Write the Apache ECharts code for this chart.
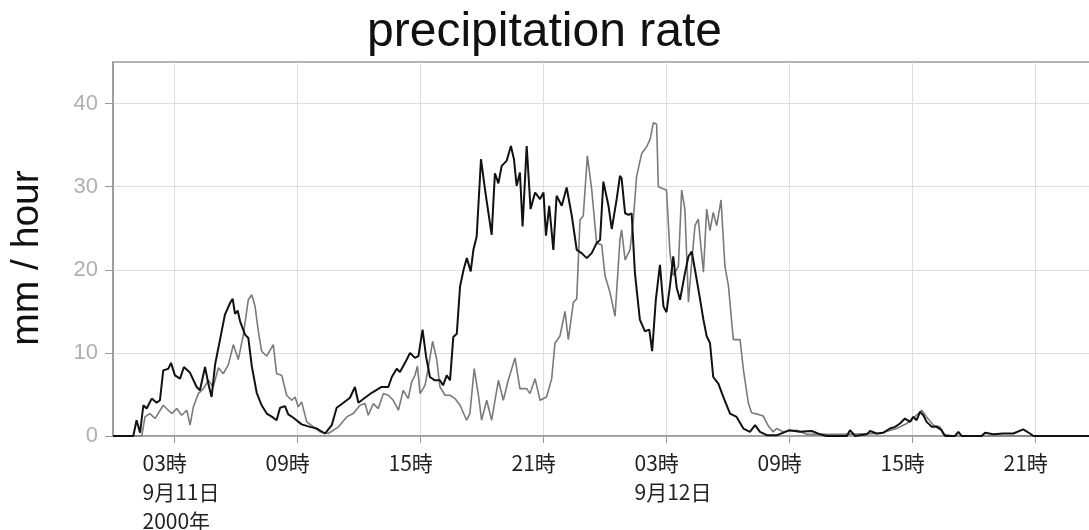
<!DOCTYPE html>
<html>
<head>
<meta charset="utf-8">
<title>precipitation rate</title>
<script src="https://cdn.jsdelivr.net/npm/echarts@6/dist/echarts.min.js"></script>
<style>
  html, body { margin: 0; padding: 0; background: #fff; }
  #chart { width: 1089px; height: 530px; }
</style>
</head>
<body>
<div id="chart"></div>
<script>
// hours since 2000-09-11 00:00
const tickHours = [3, 9, 15, 21, 27, 33, 39, 45];
const tickLabels = ['03時\n9月11日\n2000年', '09時', '15時', '21時', '03時\n9月12日', '09時', '15時', '21時'];
const rateTicks = [0, 10, 20, 30, 40];

const blackHours = [0, 0.99, 1.15, 1.32, 1.48, 1.64, 1.89, 2.13, 2.29, 2.45, 2.7, 2.83, 3.02, 3.27, 3.46, 3.76,
  4.08, 4.24, 4.49, 4.65, 4.81, 4.98, 5.22, 5.46, 5.71, 5.84, 5.95, 6.08, 6.2, 6.44, 6.6, 6.77, 7.01, 7.25,
  7.5, 7.82, 7.98, 8.15, 8.39, 8.55, 8.8, 9.2, 9.61, 9.94, 10.34, 10.67, 10.91, 11.24, 11.56, 11.8, 11.97,
  12.29, 12.62, 13.1, 13.43, 13.6, 13.84, 14.0, 14.33, 14.49, 14.73, 14.9, 15.1, 15.27, 15.46, 15.7, 15.95,
  16.1, 16.28, 16.44, 16.6, 16.77, 16.93, 17.1, 17.26, 17.45, 17.58, 17.74, 17.95, 18.15, 18.47, 18.63, 18.8,
  18.96, 19.2, 19.41, 19.56, 19.69, 19.85, 19.98, 20.18, 20.37, 20.59, 20.83, 21.0, 21.12, 21.28, 21.48,
  21.64, 21.89, 22.13, 22.38, 22.62, 22.86, 23.11, 23.35, 23.59, 23.76, 23.92, 24.17, 24.33, 24.57, 24.73,
  24.81, 24.98, 25.15, 25.3, 25.46, 25.7, 25.95, 26.16, 26.3, 26.48, 26.68, 26.85, 27.0, 27.17, 27.33, 27.5,
  27.66, 27.9, 28.07, 28.23, 28.39, 28.64, 28.8, 28.96, 29.12, 29.28, 29.53, 29.77, 30.1, 30.42, 30.75,
  31.07, 31.32, 31.56, 31.89, 32.4, 33.0, 33.5, 34.08, 34.5, 34.8, 35.8, 35.95, 36.2, 36.77, 36.93, 37.25,
  37.58, 37.9, 38.15, 38.39, 38.63, 38.88, 39.04, 39.2, 39.37, 39.53, 39.69, 39.94, 40.18, 40.42, 40.59,
  41.07, 41.24, 41.4, 42.37, 42.54, 42.94, 43.43, 43.92, 44.4, 44.73, 44.9, 48];
const blackRates = [0, 0, 1.9, 0.4, 3.7, 3.3, 4.5, 4.0, 4.3, 7.9, 8.1, 8.8, 7.3, 6.9, 8.3, 7.6,
  5.9, 5.5, 8.3, 6.3, 4.7, 8.6, 11.6, 14.6, 16.0, 16.5, 14.7, 15.1, 13.8, 12.2, 11.8, 8.4, 5.2, 3.7,
  2.7, 2.2, 1.9, 3.4, 3.6, 2.6, 2.2, 1.4, 1.1, 0.9, 0.3, 1.3, 3.4, 4.0, 4.6, 5.9, 4.0,
  4.6, 5.2, 5.9, 5.9, 7.1, 8.1, 7.7, 9.2, 10.0, 9.4, 9.6, 12.8, 9.6, 7.1, 6.7, 6.7,
  6.1, 7.3, 6.7, 11.9, 12.3, 18.0, 20.0, 21.4, 19.8, 22.4, 24.0, 33.3, 29.6, 24.2, 31.6, 30.4,
  32.5, 33.1, 34.9, 33.3, 30.1, 31.7, 25.2, 34.9, 27.3, 29.3, 28.5, 29.3, 24.1, 27.7, 22.4,
  28.9, 27.7, 29.9, 26.5, 22.4, 22.0, 21.4, 22.0, 23.2, 23.6, 30.6, 27.7, 24.9, 28.5, 31.3,
  31.0, 26.8, 26.6, 26.8, 19.6, 14.0, 12.6, 12.8, 10.2, 16.4, 20.6, 15.6, 14.9, 18.1, 21.6, 17.8,
  16.4, 19.6, 21.6, 22.2, 20.0, 16.4, 14.0, 12.0, 11.2, 7.1, 6.3, 4.7, 2.7, 2.3, 0.9,
  0.5, 1.3, 0.5, 0.1, 0.1, 0.7, 0.5, 0.6, 0.2, 0, 0, 0.7, 0, 0.2, 0.6, 0.3,
  0.4, 0.9, 1.1, 1.5, 2.1, 1.7, 2.3, 1.9, 2.9, 2.5, 1.7, 1.1, 1.1, 0.7, 0,
  0, 0.5, 0, 0, 0.4, 0.2, 0.3, 0.3, 0.8, 0.3, 0, 0];

const grayHours = [0, 1.4, 1.56, 1.8, 2.05, 2.45, 2.7, 2.86, 3.11, 3.35, 3.6, 3.76, 3.92, 4.16, 4.41, 4.65,
  4.89, 5.14, 5.38, 5.63, 5.87, 6.11, 6.36, 6.6, 6.77, 6.93, 7.09, 7.25, 7.5, 7.82, 7.98, 8.23, 8.47, 8.72,
  8.88, 9.04, 9.2, 9.45, 10.1, 10.5, 11.0, 11.4, 11.72, 12.05, 12.3, 12.45, 12.7, 12.94, 13.19, 13.43, 13.67,
  13.92, 14.16, 14.4, 14.57, 14.73, 14.85, 14.98, 15.22, 15.38, 15.59, 15.79, 15.95, 16.2, 16.44, 16.68,
  16.93, 17.25, 17.41, 17.62, 17.85, 17.98, 18.23, 18.47, 18.8, 19.04, 19.28, 19.61, 19.85, 20.18, 20.34,
  20.59, 20.83, 21.15, 21.4, 21.56, 21.8, 22.05, 22.21, 22.46, 22.62, 22.78, 22.94, 23.14, 23.35, 23.59,
  23.84, 24.0, 24.24, 24.49, 24.73, 24.81, 24.98, 25.22, 25.38, 25.54, 25.79, 26.03, 26.2, 26.36, 26.52,
  26.6, 26.77, 27.0, 27.17, 27.33, 27.58, 27.74, 27.9, 28.07, 28.23, 28.39, 28.55, 28.8, 28.96, 29.12,
  29.28, 29.45, 29.66, 29.85, 30.02, 30.26, 30.59, 30.75, 30.99, 31.15, 31.48, 31.72, 31.97, 32.2, 32.37,
  32.7, 33.35, 33.84, 35.46, 37.4, 38.23, 38.72, 39.2, 39.45, 39.69, 40.02, 40.34, 40.5, 41, 48];
const grayRates = [0, 0, 2.3, 2.7, 2.1, 3.7, 3.1, 2.7, 3.3, 2.5, 3.1, 1.3, 3.5, 5.1, 5.7, 6.7,
  5.9, 8.2, 7.5, 8.6, 11.0, 9.2, 12.2, 16.4, 17.0, 15.6, 12.6, 10.2, 9.6, 11.0, 7.5, 7.3, 4.9, 4.3,
  4.7, 3.5, 4.1, 1.7, 0.5, 0.3, 1.1, 2.3, 2.7, 3.7, 3.9, 2.5, 3.9, 3.3, 5.1, 4.9, 4.3,
  3.1, 5.5, 4.5, 6.5, 7.3, 8.4, 5.1, 6.1, 8.2, 11.4, 9.2, 5.9, 4.9, 4.9, 4.5,
  3.7, 1.9, 2.7, 8.1, 4.5, 1.9, 4.3, 1.9, 6.7, 4.3, 6.7, 9.4, 5.7, 5.7, 5.1,
  6.9, 4.3, 4.7, 6.9, 11.2, 12.0, 15.0, 11.6, 16.1, 16.5, 26.0, 26.5, 33.7, 29.7, 23.2,
  23.0, 19.3, 17.3, 14.4, 23.6, 24.8, 21.2, 22.4, 26.0, 31.2, 34.0, 34.8, 35.7, 37.7, 37.5,
  30.0, 29.8, 29.6, 22.0, 19.3, 20.4, 29.6, 27.2, 16.1, 20.9, 25.3, 26.1, 19.7, 27.3, 24.7,
  26.9, 25.3, 28.4, 20.4, 18.1, 11.6, 11.6, 8.0, 4.0, 2.8, 2.6, 2.4, 1.2, 0.5, 0.9,
  0.5, 0.7, 0.2, 0.2, 0.3, 0.9, 1.5, 2.5, 3.1, 2.3, 1.3, 1.1, 0.2, 0, 0];

const pairs = (xs, ys) => xs.map((x, i) => [x, ys[i]]);
const axisGray = '#999999';
const gridGray = '#dddddd';

const chart = echarts.init(document.getElementById('chart'), null, { renderer: 'canvas' });

chart.setOption({
    animation: false,
    backgroundColor: '#ffffff',
    title: {
        text: 'precipitation rate',
        left: 'center',
        top: 4,
        textStyle: { color: '#111', fontFamily: 'Liberation Sans', fontSize: 48, fontWeight: 'normal' },
    },
    grid: {
        left: 113, top: 62, width: 984, height: 374,
        outerBoundsMode: 'none',
        containLabel: false,
        show: true, borderColor: axisGray, borderWidth: 1.5,
    },
    xAxis: {
        type: 'value',
        min: 0,
        max: 48,
        axisLine: { show: true, lineStyle: { color: axisGray, width: 1.5 } },
        axisTick: { show: true, length: 7, lineStyle: { color: axisGray }, customValues: tickHours },
        axisLabel: {
            customValues: tickHours,
            interval: 0,
            align: 'left',
            padding: [0, 0, 0, -32],
            margin: 13,
            color: '#222',
            fontFamily: 'Noto Sans CJK JP',
            fontSize: 21,
            lineHeight: 29,
            formatter: (value) => tickLabels[tickHours.indexOf(value)] ?? '',
        },
        splitLine: { show: true, lineStyle: { color: gridGray, width: 1 } },
    },
    yAxis: {
        type: 'value',
        min: 0,
        max: 45,
        name: 'mm / hour',
        nameLocation: 'middle',
        nameGap: 66,
        nameTextStyle: { color: '#111', fontFamily: 'Liberation Sans', fontSize: 39, padding: [0, 18, 0, 0] },
        axisLine: { show: true, lineStyle: { color: axisGray, width: 1.5 } },
        axisTick: { show: true, length: 8, lineStyle: { color: axisGray }, customValues: rateTicks },
        axisLabel: {
            customValues: rateTicks,
            margin: 15,
            color: '#b0b0b0',
            fontFamily: 'Liberation Sans',
            fontSize: 22,
        },
        splitLine: { show: true, lineStyle: { color: gridGray, width: 1 } },
    },
    series: [
        {
            name: 'gray',
            type: 'line',
            data: pairs(grayHours, grayRates),
            showSymbol: false,
            lineStyle: { color: '#7a7a7a', width: 1.6 },
            z: 2,
        },
        {
            name: 'black',
            type: 'line',
            data: pairs(blackHours, blackRates),
            showSymbol: false,
            lineStyle: { color: '#111111', width: 2 },
            z: 3,
        },
    ],
});
</script>
</body>
</html>
